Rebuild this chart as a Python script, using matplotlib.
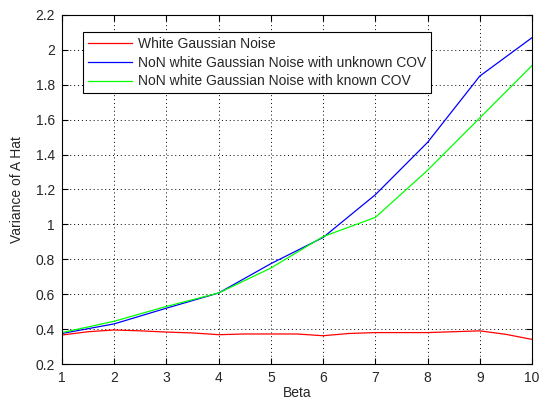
import matplotlib
matplotlib.use("Agg")
import matplotlib.pyplot as plt

plt.rcParams['font.family'] = ['Liberation Sans', 'DejaVu Sans']

# Beta values
beta = [1, 2, 3, 4, 5, 6, 7, 8, 9, 10]
beta_fine = [1, 1.5, 2, 2.5, 3, 3.5, 4, 4.5, 5, 5.5, 6, 6.5, 7, 7.5, 8, 8.5, 9, 9.5, 10]

# Variance of A hat for each noise model
white = [0.366, 0.385, 0.395, 0.39, 0.383, 0.378, 0.368, 0.372, 0.372, 0.372,
         0.362, 0.375, 0.38, 0.38, 0.38, 0.385, 0.39, 0.37, 0.341]
unknown_cov = [0.375, 0.43, 0.52, 0.607, 0.775, 0.925, 1.17, 1.47, 1.85, 2.07]
known_cov = [0.38, 0.445, 0.53, 0.607, 0.75, 0.93, 1.04, 1.31, 1.61, 1.91]

labels = ['White Gaussian Noise',
          'NoN white Gaussian Noise with unknown COV',
          'NoN white Gaussian Noise with known COV']

text_color = '#262626'

fig = plt.figure(figsize=(5.45, 4.03), dpi=100)
ax = fig.add_axes([62 / 545, 1 - 364 / 403, (532 - 62) / 545, (364 - 15) / 403])

ax.plot(beta_fine, white, color='#ff0000', lw=0.9, label=labels[0])
ax.plot(beta, unknown_cov, color='#0000ff', lw=0.9, label=labels[1])
ax.plot(beta, known_cov, color='#00ff00', lw=0.9, label=labels[2])

ax.set_xlim(1, 10)
ax.set_ylim(0.2, 2.2)
ax.set_xticks(range(1, 11))
ax.set_yticks([0.2, 0.4, 0.6, 0.8, 1, 1.2, 1.4, 1.6, 1.8, 2, 2.2])
ax.set_yticklabels(['0.2', '0.4', '0.6', '0.8', '1', '1.2', '1.4', '1.6', '1.8', '2', '2.2'])
ax.tick_params(direction='in', top=True, right=True, labelsize=10, length=4,
               width=0.8, colors='black', labelcolor=text_color)
ax.tick_params(axis='x', pad=5)
ax.tick_params(axis='y', pad=5)
ax.grid(True, linestyle=(0, (1, 3)), color='black', linewidth=0.7)
for s in ax.spines.values():
    s.set_linewidth(0.8)

ax.set_xlabel('Beta', fontsize=10, labelpad=1, color=text_color)
ax.set_ylabel('Variance of A Hat', fontsize=10, labelpad=8, color=text_color)

leg = ax.legend(loc='upper left', bbox_to_anchor=(0.045, 0.95), fontsize=10,
                fancybox=False, framealpha=1, edgecolor='black',
                handlelength=3.2, borderpad=0.35, labelspacing=0.33,
                handletextpad=0.4, borderaxespad=0)
leg.get_frame().set_linewidth(0.8)
for t in leg.get_texts():
    t.set_color(text_color)

fig.savefig('out.png', dpi=100)
